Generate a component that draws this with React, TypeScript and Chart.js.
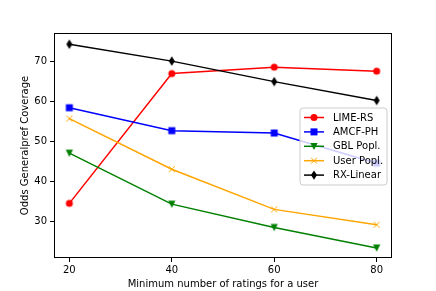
import React, { useEffect, useRef } from 'react';
import { Chart, registerables } from 'chart.js';
Chart.register(...registerables);

const minRatings = [20, 40, 60, 80];
const limeRS = [34.6, 66.9, 68.5, 67.5];
const amcfPH = [58.4, 52.7, 52.1, 44.6];
const gblPopl = [47.1, 34.4, 28.6, 23.5];
const userPopl = [55.7, 43.1, 33.1, 29.3];
const rxLinear = [74.2, 70.0, 64.9, 60.2];
const xTicks = [20, 40, 60, 80];
const yTicks = [30, 40, 50, 60, 70];
const seriesNames = ['LIME-RS', 'AMCF-PH', 'GBL Popl.', 'User Popl.', 'RX-Linear'];
const seriesColors = ['#ff0000', '#0000ff', '#008000', '#ffa500', '#000000'];
const seriesMarkers = ['circle', 'square', 'tridown', 'x', 'thindiamond'];
const seriesValues = [limeRS, amcfPH, gblPopl, userPopl, rxLinear];

const FONT = "'DejaVu Sans', sans-serif";

function drawMarker(ctx: CanvasRenderingContext2D, kind: string, x: number, y: number, color: string) {
  ctx.save();
  ctx.fillStyle = color;
  ctx.strokeStyle = color;
  ctx.lineWidth = 1;
  ctx.beginPath();
  if (kind === 'circle') {
    ctx.arc(x, y, 3.5, 0, Math.PI * 2);
    ctx.fill();
  } else if (kind === 'square') {
    ctx.fillRect(x - 3.5, y - 3.5, 7, 7);
  } else if (kind === 'tridown') {
    ctx.moveTo(x - 3.6, y - 3.4);
    ctx.lineTo(x + 3.6, y - 3.4);
    ctx.lineTo(x, y + 3.8);
    ctx.closePath();
    ctx.fill();
  } else if (kind === 'x') {
    ctx.moveTo(x - 3, y - 3);
    ctx.lineTo(x + 3, y + 3);
    ctx.moveTo(x - 3, y + 3);
    ctx.lineTo(x + 3, y - 3);
    ctx.stroke();
  } else if (kind === 'thindiamond') {
    ctx.moveTo(x, y - 4.7);
    ctx.lineTo(x + 3.0, y);
    ctx.lineTo(x, y + 4.7);
    ctx.lineTo(x - 3.0, y);
    ctx.closePath();
    ctx.fill();
  }
  ctx.restore();
}

function markerCanvas(kind: string, color: string): HTMLCanvasElement {
  const c = document.createElement('canvas');
  c.width = 14;
  c.height = 14;
  const ctx = c.getContext('2d')!;
  drawMarker(ctx, kind, 7, 7, color);
  return c;
}

const framePlugin = {
  id: 'frame',
  afterDatasetsDraw(chart: any) {
    const { ctx, chartArea: a } = chart;
    ctx.save();
    ctx.strokeStyle = '#000';
    ctx.lineWidth = 1;
    ctx.strokeRect(Math.round(a.left) + 0.5, Math.round(a.top) + 0.5, Math.round(a.right - a.left) - 1, Math.round(a.bottom - a.top) - 1);
    ctx.restore();
  },
};

const legendPlugin = {
  id: 'mplLegend',
  afterDraw(chart: any) {
    const { ctx, chartArea: a } = chart;
    const w = 87;
    const h = 77;
    const right = a.right - 5;
    const left = right - w;
    const cy = (a.top + a.bottom) / 2 + 1;
    const top = cy - h / 2;
    ctx.save();
    ctx.beginPath();
    const r = 3;
    ctx.moveTo(left + r, top);
    ctx.arcTo(left + w, top, left + w, top + h, r);
    ctx.arcTo(left + w, top + h, left, top + h, r);
    ctx.arcTo(left, top + h, left, top, r);
    ctx.arcTo(left, top, left + w, top, r);
    ctx.closePath();
    ctx.fillStyle = 'rgba(255,255,255,0.8)';
    ctx.fill();
    ctx.strokeStyle = '#cccccc';
    ctx.lineWidth = 1;
    ctx.stroke();
    ctx.font = `10px ${FONT}`;
    ctx.textBaseline = 'middle';
    ctx.textAlign = 'left';
    for (let i = 0; i < seriesNames.length; i++) {
      const y = top + 9.5 + i * 14.4;
      ctx.strokeStyle = seriesColors[i];
      ctx.lineWidth = 1.5;
      ctx.beginPath();
      ctx.moveTo(left + 4, y);
      ctx.lineTo(left + 24, y);
      ctx.stroke();
      drawMarker(ctx, seriesMarkers[i], left + 14, y, seriesColors[i]);
      ctx.fillStyle = '#000';
      ctx.fillText(seriesNames[i], left + 33, y + 0.5);
    }
    ctx.restore();
  },
};

export default function App() {
  const ref = useRef<HTMLCanvasElement>(null);
  useEffect(() => {
    document.body.style.margin = '0';
    const datasets = seriesNames.map((name, i) => ({
      label: name,
      data: minRatings.map((x, j) => ({ x, y: seriesValues[i][j] })),
      borderColor: seriesColors[i],
      backgroundColor: seriesColors[i],
      borderWidth: 1.5,
      pointStyle: markerCanvas(seriesMarkers[i], seriesColors[i]) as any,
      pointRadius: 4,
      tension: 0,
      order: seriesNames.length - i,
    }));
    const chart = new Chart(ref.current!, {
      type: 'line',
      data: { datasets },
      plugins: [framePlugin, legendPlugin],
      options: {
        animation: false,
        responsive: false,
        devicePixelRatio: 1,
        layout: { padding: { top: 33, right: 44, left: 0, bottom: 0 } },
        plugins: { legend: { display: false }, tooltip: { enabled: false } },
        scales: {
          x: {
            type: 'linear',
            min: 17,
            max: 83,
            afterBuildTicks: (s: any) => { s.ticks = xTicks.map((v) => ({ value: v })); },
            afterFit: (s: any) => { s.height = 33; },
            grid: { drawOnChartArea: false, drawTicks: true, tickLength: 4, color: '#000', lineWidth: 1 },
            border: { display: false },
            ticks: { color: '#000', font: { family: FONT, size: 10 }, padding: 2, maxRotation: 0 },
            title: { display: true, text: 'Minimum number of ratings for a user', color: '#000', font: { family: FONT, size: 10 }, padding: { top: 0, bottom: 1 } },
          },
          y: {
            type: 'linear',
            min: 21,
            max: 77,
            afterBuildTicks: (s: any) => { s.ticks = yTicks.map((v) => ({ value: v })); },
            afterFit: (s: any) => { s.width = 54; },
            grid: { drawOnChartArea: false, drawTicks: true, tickLength: 4, color: '#000', lineWidth: 1 },
            border: { display: false },
            ticks: { color: '#000', font: { family: FONT, size: 10 }, padding: 3 },
            title: { display: true, text: 'Odds Generalpref Coverage', color: '#000', font: { family: FONT, size: 10 }, padding: { top: 19, bottom: 0 } },
          },
        },
      },
    });
    return () => chart.destroy();
  }, []);
  return (
    <div style={{ position: 'fixed', left: 0, top: 0, width: 436, height: 291 }}>
      <canvas ref={ref} width={436} height={291} style={{ width: 436, height: 291, display: 'block' }} />
    </div>
  );
}
